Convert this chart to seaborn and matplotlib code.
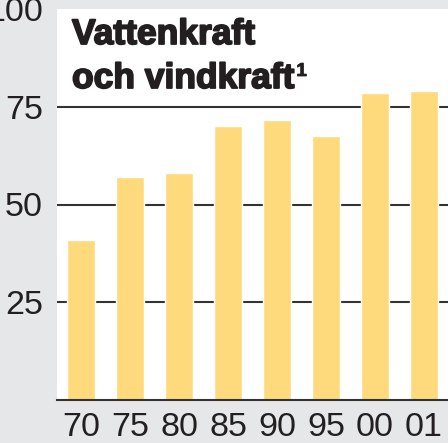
import matplotlib
matplotlib.use("Agg")
import matplotlib.pyplot as plt
import matplotlib.patheffects as pe
import seaborn as sns
import pandas as pd

# values
years = ["70", "75", "80", "85", "90", "95", "00", "01"]
values = [41, 57, 58, 70, 71.5, 67.5, 78.5, 79]
yticks = [25, 50, 75, 100]
title_lines = ["Vattenkraft", "och vindkraft"]
footnote_mark = "1"

bg = "#E6E7E8"
bar_color = "#FEDA7C"
ink = "#231F20"

sns.set_theme(style="white")
plt.rcParams["font.family"] = ["Liberation Sans Narrow", "Liberation Sans", "DejaVu Sans"]

df = pd.DataFrame({"year": years, "value": values})

fig = plt.figure(figsize=(4.48, 4.43), dpi=100, facecolor=bg)
ax = fig.add_axes([57 / 448, 43 / 443, 391 / 448, 391 / 443])
ax.set_facecolor("white")

for y in yticks[:-1]:
    ax.axhline(y, color="#333333", lw=1.5, zorder=0)

sns.barplot(data=df, x="year", y="value", color=bar_color, width=0.57,
            saturation=1, ax=ax, zorder=2)

ax.set_xlim(-0.49, 7.49)
ax.set_ylim(0, 100)
ax.set_yticks(yticks)
ax.set_xlabel("")
ax.set_ylabel("")
for s in ["top", "right", "left"]:
    ax.spines[s].set_visible(False)
ax.spines["bottom"].set_color("#333333")
ax.spines["bottom"].set_linewidth(1.5)
ax.spines["bottom"].set_zorder(3)
ax.tick_params(axis="both", length=0, labelsize=24.5, colors=ink)
ax.tick_params(axis="y", pad=10)
ax.tick_params(axis="x", pad=9)

# heavy two-line title, one baseline per line
heavy = [pe.withStroke(linewidth=1.3, foreground=ink)]
title_texts = []
for i, line in enumerate(title_lines):
    t = fig.text(72 / 448, 1 - (44 + 44 * i) / 443, line,
                 fontsize=25.5, fontweight="bold", color=ink,
                 family=["Liberation Sans", "DejaVu Sans"],
                 ha="left", va="baseline", path_effects=heavy)
    title_texts.append(t)

# superscript footnote mark after the second line
fig.canvas.draw()
bb = title_texts[-1].get_window_extent(fig.canvas.get_renderer())
fig.text((bb.x1 + 2) / 448, 1 - 76 / 443, footnote_mark,
         fontsize=13.5, fontweight="bold", color=ink,
         family=["Liberation Sans", "DejaVu Sans"],
         ha="left", va="baseline",
         path_effects=[pe.withStroke(linewidth=0.6, foreground=ink)])

fig.savefig("out.png", dpi=100, facecolor=bg)
